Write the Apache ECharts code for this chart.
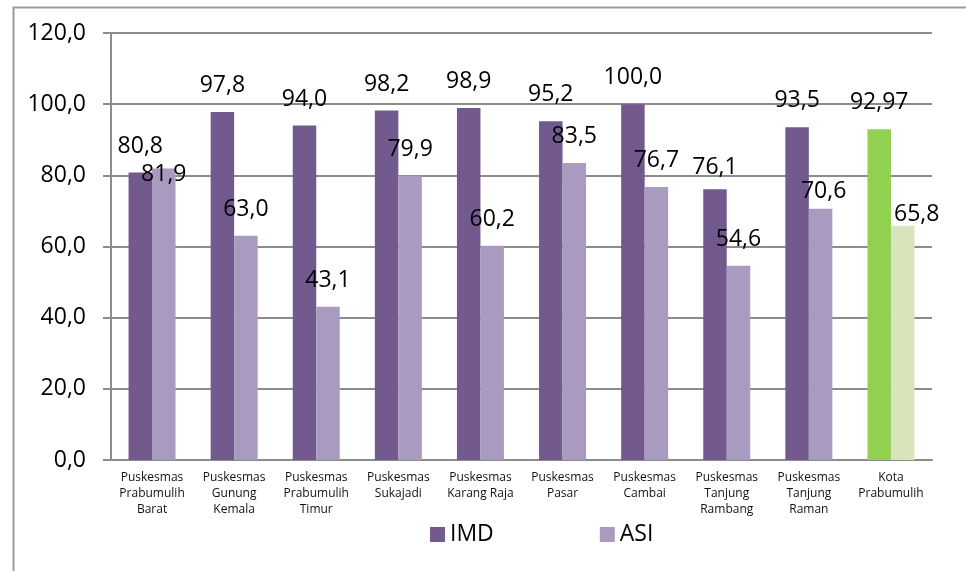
<!DOCTYPE html>
<html>
<head>
<meta charset="utf-8">
<script src="https://cdn.jsdelivr.net/npm/echarts@6/dist/echarts.min.js"></script>
<style>
  html, body { margin: 0; padding: 0; background: #fff; }
  #chart { width: 966px; height: 571px; }
</style>
</head>
<body>
<div id="chart"></div>
<script>
var categories = [
  "Puskesmas\nPrabumulih\nBarat",
  "Puskesmas\nGunung\nKemala",
  "Puskesmas\nPrabumulih\nTimur",
  "Puskesmas\nSukajadi",
  "Puskesmas\nKarang Raja",
  "Puskesmas\nPasar",
  "Puskesmas\nCambai",
  "Puskesmas\nTanjung\nRambang",
  "Puskesmas\nTanjung\nRaman",
  "Kota\nPrabumulih"
];
var imdValues = [80.8, 97.8, 94.0, 98.2, 98.9, 95.2, 100.0, 76.1, 93.5, 92.97];
var asiValues = [81.9, 63.0, 43.1, 79.9, 60.2, 83.5, 76.7, 54.6, 70.6, 65.8];
var yTicks = { min: 0, max: 120, interval: 20 };

// label nudges (Excel had some labels dragged by hand)
var imdLabelShift = [[0, 0], [0, 0], [0, 0], [0, 0], [0, 0], [0, 0], [0, 0], [0, 5], [0, 0], [0, 0]];
var asiLabelShift = [[0, 32], [0, 0], [0, 0], [0, 0], [0, 0], [0, 0], [0, 0], [0, 0], [3, 9], [14, 15]];

var FONT = "Open Sans";
var purple = "#725a8f";
var lilac = "#a99bbf";
var green = "#92d050";
var paleGreen = "#d8e4bc";

function fmt(v) {
  var s = Number.isInteger(Math.round(v * 100) / 10) ? v.toFixed(1) : v.toFixed(2);
  return s.replace(".", ",");
}

function buildData(values, shift, lastColor) {
  return values.map(function (v, i) {
    var item = { value: v, label: { offset: shift[i] } };
    if (i === values.length - 1) {
      item.itemStyle = { color: lastColor };
    }
    return item;
  });
}

var labelStyle = {
  show: true,
  position: "top",
  distance: 15,
  fontFamily: FONT,
  fontSize: 23,
  color: "#000",
  formatter: function (p) { return fmt(p.value); }
};

var chart = echarts.init(document.getElementById("chart"));
chart.setOption({
  animation: false,
  backgroundColor: "#fff",
  textStyle: { fontFamily: FONT },
  graphic: [
    {
      type: "rect",
      left: 11,
      top: 5,
      shape: { width: 1000, height: 620 },
      style: { fill: "none", stroke: "#9a9a9a", lineWidth: 2 },
      silent: true
    }
  ],
  grid: { left: 111, right: 34, top: 33, bottom: 111 },
  legend: {
    left: 425,
    top: 518,
    itemWidth: 15,
    itemHeight: 15,
    itemGap: 106,
    icon: "rect",
    textStyle: { fontFamily: FONT, fontSize: 23, color: "#000" },
    data: ["IMD", "ASI"]
  },
  xAxis: {
    type: "category",
    data: categories,
    axisLine: { lineStyle: { color: "#8c8c8c", width: 2 } },
    axisTick: { length: 4, lineStyle: { color: "#8c8c8c", width: 2 } },
    axisLabel: {
      interval: 0,
      margin: 10,
      fontFamily: FONT,
      fontSize: 12,
      lineHeight: 15.7,
      color: "#111"
    }
  },
  yAxis: {
    type: "value",
    min: yTicks.min,
    max: yTicks.max,
    interval: yTicks.interval,
    axisLine: { show: true, lineStyle: { color: "#8c8c8c", width: 2 } },
    axisTick: { show: true, length: 8, lineStyle: { color: "#8c8c8c", width: 2 } },
    splitLine: { lineStyle: { color: "#8c8c8c", width: 2 } },
    axisLabel: {
      margin: 25,
      fontFamily: FONT,
      fontSize: 23,
      color: "#000",
      formatter: function (v) { return v.toFixed(1).replace(".", ","); }
    }
  },
  series: [
    {
      name: "IMD",
      type: "bar",
      barWidth: 23.5,
      barGap: "0%",
      itemStyle: { color: purple },
      label: labelStyle,
      data: buildData(imdValues, imdLabelShift, green)
    },
    {
      name: "ASI",
      type: "bar",
      barWidth: 23.5,
      barGap: "0%",
      itemStyle: { color: lilac },
      label: labelStyle,
      data: buildData(asiValues, asiLabelShift, paleGreen)
    }
  ]
});
</script>
</body>
</html>
